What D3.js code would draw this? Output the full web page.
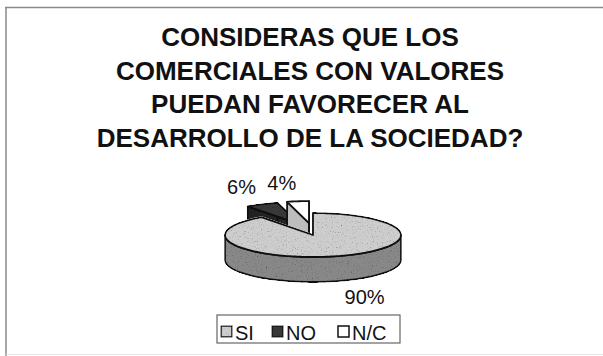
<!DOCTYPE html>
<html>
<head>
<meta charset="utf-8">
<script src="https://cdn.jsdelivr.net/npm/d3@7"></script>
<style>
  html, body { margin: 0; padding: 0; background: #fff; }
  svg { display: block; }
  text { font-family: "Liberation Sans", Arial, sans-serif; fill: #111; }
</style>
</head>
<body>
<svg id="chart" width="603" height="356"></svg>
<script>
// Survey answers
const categories = ["SI", "NO", "N/C"];
const percents = [90, 6, 4];
const exploded = [false, true, true];
const titleLines = [
  "CONSIDERAS QUE LOS",
  "COMERCIALES CON VALORES",
  "PUEDAN FAVORECER AL",
  "DESARROLLO DE LA SOCIEDAD?"
];

const W = 603, H = 356;
const svg = d3.select("#chart");

// Grainy printed-look filter for the shaded fills
const defs = svg.append("defs");
const grain = defs.append("filter").attr("id", "grain")
  .attr("x", "-5%").attr("y", "-5%").attr("width", "110%").attr("height", "110%");
grain.append("feTurbulence").attr("type", "fractalNoise")
  .attr("baseFrequency", 0.8).attr("numOctaves", 2).attr("seed", 7).attr("result", "noise");
grain.append("feColorMatrix").attr("in", "noise").attr("type", "matrix")
  .attr("values", "0.33 0.33 0.33 0 0  0.33 0.33 0.33 0 0  0.33 0.33 0.33 0 0  0 0 0 0 1")
  .attr("result", "gray");
const ct = grain.append("feComponentTransfer").attr("in", "gray").attr("result", "tone");
["feFuncR", "feFuncG", "feFuncB"].forEach(f =>
  ct.append(f).attr("type", "linear").attr("slope", 3).attr("intercept", -0.35));
grain.append("feBlend").attr("in", "SourceGraphic").attr("in2", "tone").attr("mode", "multiply").attr("result", "mix");
grain.append("feComposite").attr("in", "mix").attr("in2", "SourceGraphic").attr("operator", "in");

// Frame
const frame = svg.append("g").attr("stroke", "#8a8a8a").attr("stroke-width", 1.5).attr("fill", "none");
frame.append("line").attr("x1", 5).attr("y1", 7.5).attr("x2", W).attr("y2", 7.5);
frame.append("line").attr("x1", 6).attr("y1", 7).attr("x2", 6).attr("y2", H);
frame.append("line").attr("x1", 6).attr("y1", 354.5).attr("x2", W).attr("y2", 354.5)
  .attr("stroke", "#e4e4e4").attr("stroke-width", 1);

// Title
svg.append("g").selectAll("text").data(titleLines).join("text")
  .attr("x", 310)
  .attr("y", (d, i) => 46 + i * 33.7)
  .attr("text-anchor", "middle")
  .style("font-weight", "bold")
  .style("font-size", "26px")
  .text(d => d);

// 3D pie geometry
const cx = 313, cy = 235, rx = 88, ry = 22, depth = 25;
const explodeX = 32, explodeY = 12;

const pie = d3.pie().sort(null).value(d => d.v)
  .startAngle(0).endAngle(2 * Math.PI);
const data = categories.map((c, i) => ({ c, v: percents[i], ex: exploded[i] }));
const arcs = pie(data);

const topFill = { "SI": "#cdcdcd", "NO": "#383838", "N/C": "#ffffff" };
const sideFill = { "SI": "#888888", "NO": "#222222", "N/C": "#bdbdbd" };
const grained = { "SI": true, "NO": true, "N/C": false };

function offsetOf(a) {
  if (!a.data.ex) return [0, 0];
  const m = (a.startAngle + a.endAngle) / 2;
  return [Math.sin(m) * explodeX, -Math.cos(m) * explodeY];
}
function pt(t, z, o) {
  return [cx + o[0] + rx * Math.sin(t), cy + o[1] - ry * Math.cos(t) + z];
}
function arcPts(a0, a1, z, o) {
  const n = Math.max(2, Math.ceil((a1 - a0) / 0.03));
  const pts = [];
  for (let k = 0; k <= n; k++) pts.push(pt(a0 + (a1 - a0) * k / n, z, o));
  return pts;
}
const line = d3.line();

const pieG = svg.append("g").attr("stroke", "#111").attr("stroke-width", 1.8).attr("stroke-linejoin", "round");

// back slices first, the big front slice last
const order = arcs.slice().sort((a, b) => (a.data.ex === b.data.ex ? 0 : a.data.ex ? -1 : 1));

order.forEach(a => {
  const o = offsetOf(a);
  const g = pieG.append("g");
  if (grained[a.data.c]) g.attr("filter", "url(#grain)");
  const c0 = [cx + o[0], cy + o[1]], c1 = [cx + o[0], cy + o[1] + depth];
  // radial faces
  [a.startAngle, a.endAngle].forEach(t => {
    const p0 = pt(t, 0, o), p1 = pt(t, depth, o);
    g.append("path").attr("d", line([c0, p0, p1, c1]) + "Z").attr("fill", sideFill[a.data.c]);
  });
  // outer wall on the front half
  const w0 = Math.max(a.startAngle, Math.PI / 2), w1 = Math.min(a.endAngle, 3 * Math.PI / 2);
  if (w1 > w0) {
    const topArc = arcPts(w0, w1, 0, o);
    const botArc = arcPts(w0, w1, depth, o).reverse();
    g.append("path").attr("d", line(topArc.concat(botArc)) + "Z").attr("fill", sideFill[a.data.c]);
  }
  // top face
  const topPts = [c0].concat(arcPts(a.startAngle, a.endAngle, 0, o));
  g.append("path").attr("d", line(topPts) + "Z").attr("fill", topFill[a.data.c]);
});

// Percentage labels, set just outside the rim
const labelSize = 20, labelR = 102, labelRy = 33;
svg.append("g").selectAll("text").data(arcs).join("text")
  .attr("x", a => {
    const m = (a.startAngle + a.endAngle) / 2, o = offsetOf(a);
    return cx + o[0] + labelR * Math.sin(m);
  })
  .attr("y", a => {
    const m = (a.startAngle + a.endAngle) / 2, o = offsetOf(a);
    const front = Math.cos(m) < 0;
    return cy + o[1] - labelRy * Math.cos(m) + (front ? depth + 0.716 * labelSize - 2 : 0);
  })
  .attr("text-anchor", a => Math.sin((a.startAngle + a.endAngle) / 2) < 0 ? "end" : "start")
  .style("font-size", labelSize + "px")
  .text(a => a.data.v + "%");

// Legend
const legend = svg.append("g");
legend.append("rect").attr("x", 217).attr("y", 315).attr("width", 183).attr("height", 28)
  .attr("fill", "#fff").attr("stroke", "#666").attr("stroke-width", 1.2);
const legX = [221, 272, 338];
const items = legend.selectAll("g.item").data(categories).join("g").attr("class", "item")
  .attr("transform", (d, i) => `translate(${legX[i]},326)`);
items.append("rect").attr("width", 11).attr("height", 11)
  .attr("fill", d => topFill[d]).attr("stroke", "#111").attr("stroke-width", 1.5)
  .attr("filter", d => grained[d] ? "url(#grain)" : null);
items.append("text").attr("x", 14).attr("y", 14)
  .style("font-size", "20px")
  .text(d => d);
</script>
</body>
</html>
